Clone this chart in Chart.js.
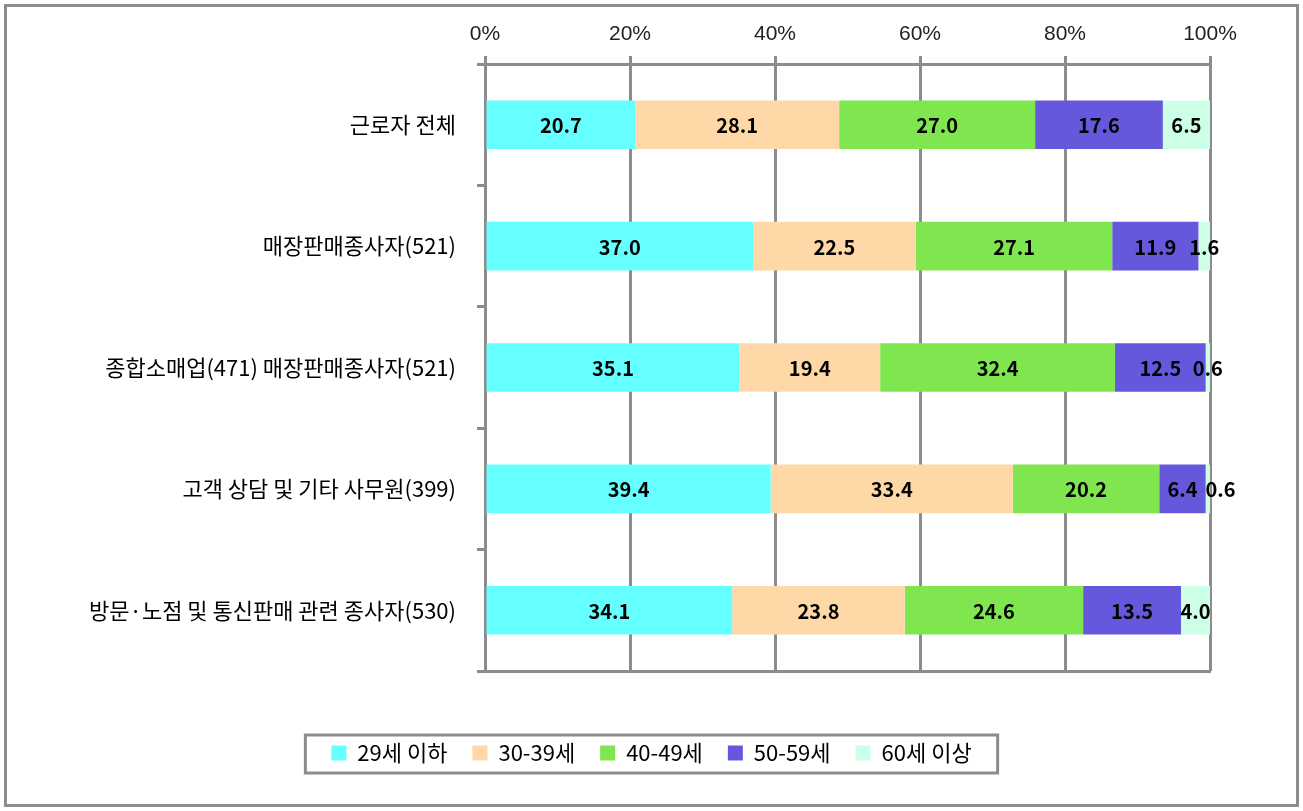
<!DOCTYPE html>
<html><head><meta charset="utf-8">
<script src="https://cdn.jsdelivr.net/npm/chart.js@4.4.0/dist/chart.umd.min.js"></script>
<style>html,body{margin:0;padding:0;background:#fff;overflow:hidden}canvas{display:block}</style>
</head><body>
<canvas id="c" width="1303" height="811"></canvas>
<script>
const categories = ['근로자 전체', '매장판매종사자(521)', '종합소매업(471) 매장판매종사자(521)', '고객 상담 및 기타 사무원(399)', '방문·노점 및 통신판매 관련 종사자(530)'];
const seriesNames = ['29세 이하', '30-39세', '40-49세', '50-59세', '60세 이상'];
const age29under = [20.7, 37.0, 35.1, 39.4, 34.1];
const age30s = [28.1, 22.5, 19.4, 33.4, 23.8];
const age40s = [27.0, 27.1, 32.4, 20.2, 24.6];
const age50s = [17.6, 11.9, 12.5, 6.4, 13.5];
const age60over = [6.5, 1.6, 0.6, 0.6, 4.0];
const xTickLabels = ['0%', '20%', '40%', '60%', '80%', '100%'];

const seriesValues = [age29under, age30s, age40s, age50s, age60over];
const seriesColors = ['#66FFFF', '#FFD8A8', '#80E650', '#6658DC', '#CCFFE6'];
const totals = categories.map((_, i) => seriesValues.reduce((s, arr) => s + arr[i], 0));

const GRID = '#8C8C8C';
const KR = "'Noto Sans CJK KR', 'Noto Sans', sans-serif";

const datasets = seriesValues.map((vals, k) => ({
  label: seriesNames[k],
  data: vals.map((v, i) => v / totals[i] * 100),
  raw: vals,
  backgroundColor: seriesColors[k],
  borderWidth: 0,
  barPercentage: 0.4,
  categoryPercentage: 1.0
}));

const frame = {
  id: 'frame',
  afterLayout(chart) {
    if (chart.legend) chart.legend.left = 93;
  },
  afterDraw(chart) {
    const ctx = chart.ctx;
    ctx.save();
    ctx.strokeStyle = GRID;
    ctx.lineWidth = 3;
    ctx.strokeRect(5.5, 5.5, 1292, 800);
    const lg = chart.legend;
    if (lg && lg.legendHitBoxes && lg.legendHitBoxes.length) {
      const hb = lg.legendHitBoxes;
      const l = Math.min(...hb.map(h => h.left)) - 26;
      const r = Math.max(...hb.map(h => h.left + h.width)) + 26;
      const cy = hb[0].top + hb[0].height / 2 + 1;
      ctx.strokeRect(l, cy - 19, r - l, 38);
    }
    ctx.restore();
  }
};

const valueLabels = {
  id: 'valueLabels',
  afterDatasetsDraw(chart) {
    const ctx = chart.ctx;
    ctx.save();
    ctx.font = "bold 20px " + KR;
    ctx.fillStyle = '#000';
    ctx.textAlign = 'center';
    ctx.textBaseline = 'middle';
    const n = categories.length;
    for (let i = 0; i < n; i++) {
      let prevRight = -Infinity;
      chart.data.datasets.forEach((ds, k) => {
        const bar = chart.getDatasetMeta(k).data[i];
        const txt = ds.raw[i].toFixed(1);
        const w = ctx.measureText(txt).width;
        let cx = (bar.x + bar.base) / 2;
        if (cx - w / 2 < prevRight + 8) cx = prevRight + 8 + w / 2;
        ctx.fillText(txt, cx, bar.y + 1);
        prevRight = cx + w / 2;
      });
    }
    ctx.restore();
  }
};

new Chart(document.getElementById('c'), {
  type: 'bar',
  data: { labels: categories, datasets },
  options: {
    responsive: false,
    animation: false,
    indexAxis: 'y',
    layout: { padding: { left: 0, top: 0, right: 93, bottom: 37 } },
    plugins: {
      legend: {
        position: 'bottom',
        labels: {
          boxWidth: 15, boxHeight: 15, padding: 25,
          color: '#000',
          font: { family: KR, size: 22 }
        }
      },
      tooltip: { enabled: false }
    },
    scales: {
      x: {
        position: 'top',
        stacked: true,
        min: 0, max: 100,
        ticks: {
          stepSize: 20,
          padding: 9,
          color: '#222',
          font: { family: "'Liberation Sans', Arial, sans-serif", size: 21 },
          callback: (v, i) => xTickLabels[i]
        },
        grid: { color: GRID, lineWidth: 3, tickLength: 8, tickColor: GRID },
        border: { display: true, color: GRID, width: 3 },
        afterFit(scale) { scale.height = 64; }
      },
      xb: {
        type: 'linear',
        position: 'bottom',
        display: true,
        ticks: { display: false },
        grid: { display: false, drawTicks: false },
        border: { display: true, color: GRID, width: 3 },
        afterFit(scale) { scale.height = 46; }
      },
      y: {
        stacked: true,
        ticks: {
          padding: 21,
          color: '#000',
          font: { family: KR, size: 22 }
        },
        grid: { offset: true, drawOnChartArea: false, color: GRID, lineWidth: 3, tickLength: 8, tickColor: GRID },
        border: { display: true, color: GRID, width: 3 },
        afterFit(scale) { scale.width = 485; }
      }
    }
  },
  plugins: [frame, valueLabels]
});
</script>
</body></html>
